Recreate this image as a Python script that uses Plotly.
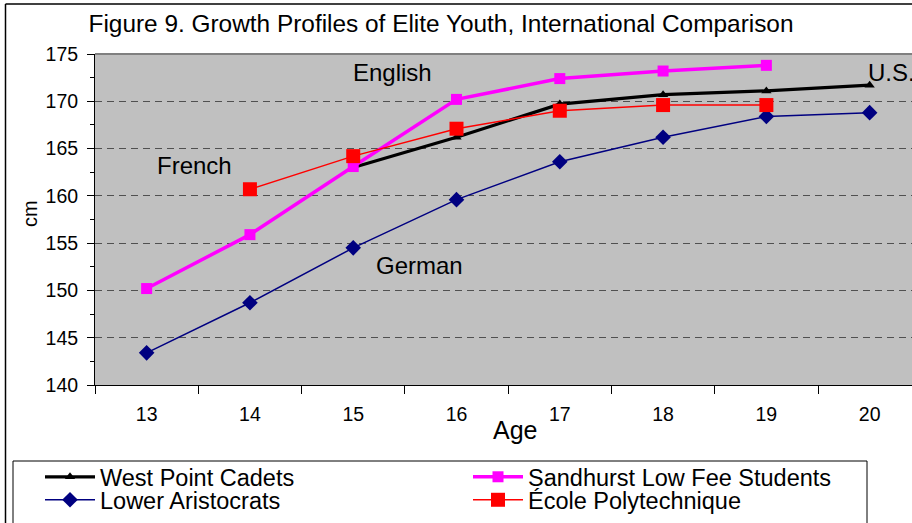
import plotly.graph_objects as go

ages = ["13", "14", "15", "16", "17", "18", "19", "20"]
west_point = [None, None, 163.0, 166.2, 169.7, 170.7, 171.1, 171.7]
sandhurst = [150.2, 155.9, 163.1, 170.2, 172.4, 173.2, 173.8, None]
lower_aristocrats = [143.4, 148.7, 154.5, 159.6, 163.6, 166.2, 168.4, 168.8]
ecole = [None, 160.7, 164.2, 167.1, 169.0, 169.6, 169.6, None]

W, H = 912, 523
L, R, T, B = 95, 0, 54, 138
pw, ph = W - L - R, H - T - B

def px(x):
    return (x - L) / pw

def py(y):
    return 1 - (y - T) / ph

FONT = "Liberation Sans, Arial, sans-serif"

fig = go.Figure()
fig.add_trace(go.Scatter(x=ages, y=west_point, name="West Point Cadets", mode="lines+markers",
                         line=dict(color="black", width=3.2), legend="legend",
                         marker=dict(symbol="triangle-up", size=9, color="black")))
fig.add_trace(go.Scatter(x=ages, y=sandhurst, name="Sandhurst Low Fee Students", mode="lines+markers",
                         line=dict(color="#FF00FF", width=3.5), legend="legend",
                         marker=dict(symbol="square", size=11, color="#FF00FF")))
fig.add_trace(go.Scatter(x=ages, y=lower_aristocrats, name="Lower Aristocrats", mode="lines+markers",
                         line=dict(color="#000080", width=1.5), legend="legend2",
                         marker=dict(symbol="diamond", size=12, color="#000080")))
fig.add_trace(go.Scatter(x=ages, y=ecole, name="École Polytechnique", mode="lines+markers",
                         line=dict(color="#FF0000", width=1.5), legend="legend2",
                         marker=dict(symbol="square", size=14, color="#FF0000")))

leg_common = dict(orientation="h", xanchor="left", yanchor="middle",
                  font=dict(size=23.5, family=FONT, color="black"),
                  bgcolor="rgba(0,0,0,0)", borderwidth=0,
                  entrywidth=363, entrywidthmode="pixels", itemwidth=50,
                  traceorder="normal")

fig.update_layout(
    width=W, height=H,
    margin=dict(l=L, r=R, t=T, b=B, autoexpand=False),
    paper_bgcolor="white",
    plot_bgcolor="#C0C0C0",
    font=dict(family=FONT, color="black"),
    title=dict(text="Figure 9. Growth Profiles of Elite Youth, International Comparison",
               x=441 / W, xanchor="center", xref="container",
               y=1 - 23 / H, yanchor="middle", yref="container",
               font=dict(size=24.4, family=FONT, color="black")),
    showlegend=True,
    legend=dict(x=px(40), y=py(477), **leg_common),
    legend2=dict(x=px(40), y=py(500), **leg_common),
    xaxis=dict(type="category", range=[-0.5, 7.41], tickson="boundaries",
               ticks="outside", ticklen=8, tickcolor="black", tickwidth=1,
               showline=True, linecolor="black", linewidth=1,
               showgrid=False, zeroline=False, ticklabelstandoff=12,
               tickfont=dict(size=19.5, family=FONT, color="black")),
    yaxis=dict(range=[140, 175], dtick=5, tick0=140,
               ticks="outside", ticklen=7, tickcolor="black",
               showline=True, linecolor="black", linewidth=1,
               showgrid=True, gridcolor="#505050", gridwidth=1, griddash="7px,5px",
               zeroline=False, ticklabelstandoff=5,
               minor=dict(dtick=2.5, ticks="outside", ticklen=4, tickcolor="black", showgrid=False),
               tickfont=dict(size=19.5, family=FONT, color="black")),
    shapes=[
        dict(type="line", xref="paper", yref="paper", x0=0, x1=1, y0=1, y1=1,
             line=dict(color="#808080", width=2)),
        dict(type="rect", xref="paper", yref="paper", x0=px(13), x1=px(867), y0=py(461), y1=py(540),
             line=dict(color="black", width=1)),
        dict(type="line", xref="paper", yref="paper", x0=px(5.5), x1=px(5.5), y0=py(4), y1=py(530),
             line=dict(color="black", width=1.5)),
        dict(type="line", xref="paper", yref="paper", x0=px(5.5), x1=px(912), y0=py(4), y1=py(4),
             line=dict(color="black", width=1.5)),
    ],
    annotations=[
        dict(text="English", xref="paper", yref="paper", x=px(392), y=py(73), showarrow=False,
             xanchor="center", yanchor="middle", font=dict(size=24, family=FONT)),
        dict(text="French", xref="paper", yref="paper", x=px(194), y=py(165), showarrow=False,
             xanchor="center", yanchor="middle", font=dict(size=24, family=FONT)),
        dict(text="German", xref="paper", yref="paper", x=px(419), y=py(265), showarrow=False,
             xanchor="center", yanchor="middle", font=dict(size=24, family=FONT)),
        dict(text="U.S.", xref="paper", yref="paper", x=px(866), y=py(73), showarrow=False,
             xanchor="left", yanchor="middle", font=dict(size=24, family=FONT)),
        dict(text="Age", xref="paper", yref="paper", x=px(515), y=py(430), showarrow=False,
             xanchor="center", yanchor="middle", font=dict(size=25, family=FONT)),
        dict(text="cm", xref="paper", yref="paper", x=px(30), y=py(214), showarrow=False,
             textangle=-90, xanchor="center", yanchor="middle", font=dict(size=20, family=FONT)),
    ],
)

fig.write_html("out.html", config={"displayModeBar": False},
               post_script="document.body.style.margin='0';document.body.style.padding='0';")
